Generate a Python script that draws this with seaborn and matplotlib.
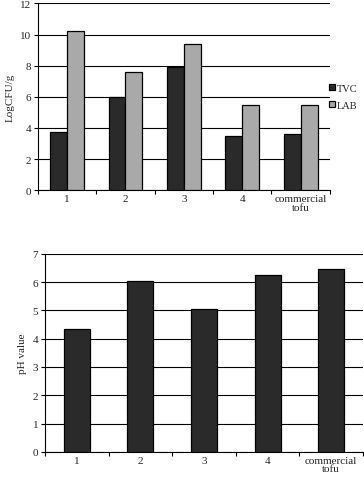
import numpy as np
import pandas as pd
import matplotlib
matplotlib.use("Agg")
import matplotlib.pyplot as plt
import seaborn as sns

# data
samples = ["1", "2", "3", "4", "commercial\ntofu"]
tvc = [3.75, 6.0, 7.9, 3.5, 3.6]
lab = [10.2, 7.6, 9.4, 5.5, 5.45]
ph = [4.35, 6.05, 5.05, 6.25, 6.45]

sns.set_style("white")
plt.rcParams["font.family"] = ["Liberation Serif", "DejaVu Serif"]
plt.rcParams["font.size"] = 8

df = pd.DataFrame({
    "sample": samples * 2,
    "value": tvc + lab,
    "kind": ["TVC"] * len(samples) + ["LAB"] * len(samples),
})
df_ph = pd.DataFrame({"sample": samples, "ph": ph})

fig = plt.figure(figsize=(3.64, 4.89), dpi=100)

# top chart
ax1 = fig.add_axes([0.104, 0.609, 0.802, 0.382])
sns.barplot(data=df, x="sample", y="value", hue="kind",
            palette={"TVC": "#2a2a2a", "LAB": "#a9a9a9"},
            width=0.58, edgecolor="black", linewidth=0.9,
            saturation=1, ax=ax1, zorder=3)
ax1.set_ylim(0, 12)
ax1.set_yticks(range(0, 13, 2))
ax1.set_xlim(-0.5, len(samples) - 0.5)
ax1.set_ylabel("LogCFU/g", fontsize=8)
ax1.set_xlabel("")
ax1.legend(loc="center left", bbox_to_anchor=(0.98, 0.5), frameon=False,
           handlelength=0.55, handleheight=0.55, handletextpad=0.2,
           borderaxespad=0.1, labelspacing=0.8, fontsize=7.5)

# bottom chart
ax2 = fig.add_axes([0.124, 0.074, 0.873, 0.405])
sns.barplot(data=df_ph, x="sample", y="ph", color="#2a2a2a",
            width=0.41, edgecolor="black", linewidth=0.9,
            saturation=1, ax=ax2, zorder=3)
ax2.set_ylim(0, 7)
ax2.set_yticks(range(0, 8))
ax2.set_xlim(-0.5, len(samples) - 0.5)
ax2.set_ylabel("pH value", fontsize=8)
ax2.set_xlabel("")

for ax in [ax1, ax2]:
    ax.yaxis.grid(True, color="black", linewidth=0.8, zorder=0)
    ax.set_axisbelow(True)
    for s in ["top", "right"]:
        ax.spines[s].set_visible(False)
    ax.spines["left"].set_color("black")
    ax.spines["bottom"].set_color("black")
    ax.spines["left"].set_linewidth(0.8)
    ax.spines["bottom"].set_linewidth(0.8)
    ax.tick_params(axis="y", length=3, width=0.8, color="black", labelsize=8, pad=2, left=True)
    ax.tick_params(axis="x", length=0, labelsize=8, pad=3)
    ax.set_xticks(np.arange(len(samples) + 1) - 0.5, minor=True)
    ax.tick_params(axis="x", which="minor", length=3, width=0.8, color="black", bottom=True)
    ax.set_xticklabels(samples, linespacing=0.9)

fig.savefig("out.png", dpi=100)
